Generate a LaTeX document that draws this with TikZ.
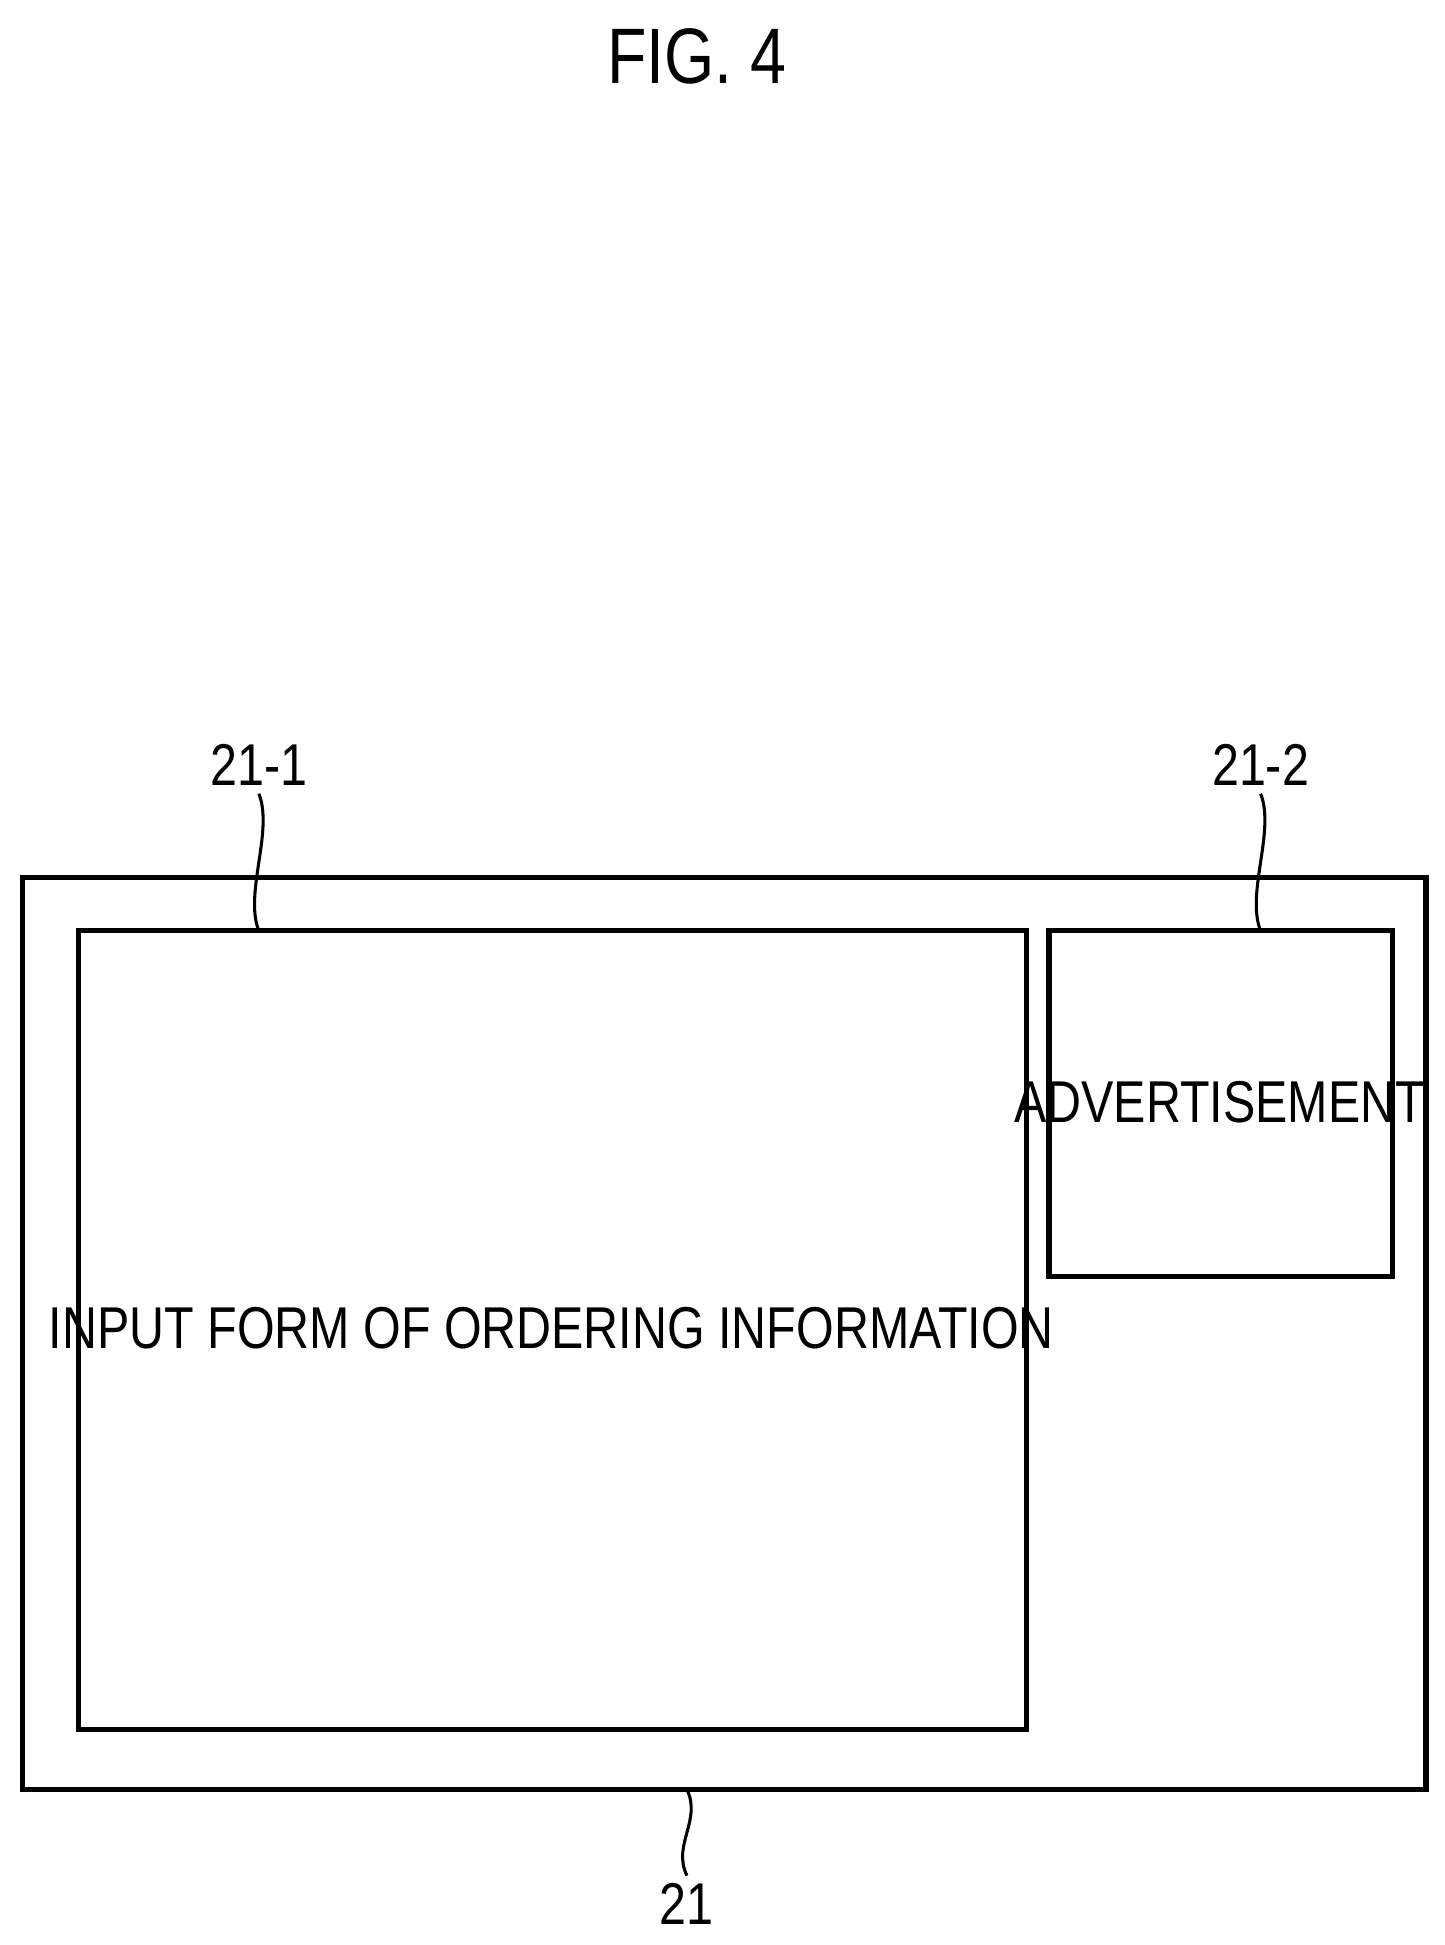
\documentclass[tikz,border=0pt]{standalone}
\usepackage{fontspec}
\setmainfont[FakeStretch=0.82]{Liberation Sans}
\usetikzlibrary{calc}
\begin{document}
\begin{tikzpicture}[x=0.02cm,y=-0.02cm,
  box/.style={draw,line width=2.4pt,inner sep=0pt},
  lbl/.style={font=\fontsize{27}{30}\selectfont},
  leader/.style={line width=1.4pt}]
\useasboundingbox (0,0) rectangle (1161,1563);
\node (fig) [font=\fontsize{36}{40}\selectfont] at (560,45) {FIG. 4};
% frames
\draw[box] (18,705) rectangle (1146,1438);
\coordinate (outs) at (552,1438);
\draw[box] (63,748) rectangle (825,1390);
\coordinate (in1) at (208,748);
\draw[box] (843,748) rectangle (1119,1026);
\coordinate (in2) at (1013,748);
\node (form) [lbl] at (443,1067) {INPUT FORM OF ORDERING INFORMATION};
\node (ad) [lbl] at (980,886) {ADVERTISEMENT};
% reference numerals
\node (r1) [lbl] at (208,615) {21-1};
\node (r2) [lbl] at (1013,615) {21-2};
\node (r0) [lbl] at (552,1530) {21};
\draw[leader] (in1) .. controls +(-12,-30) and +(12,30) .. (r1.south);
\draw[leader] (in2) .. controls +(-12,-30) and +(12,30) .. (r2.south);
\draw[leader] (outs) .. controls +(12,25) and +(-12,-25) .. (r0.north);
\end{tikzpicture}
\end{document}
